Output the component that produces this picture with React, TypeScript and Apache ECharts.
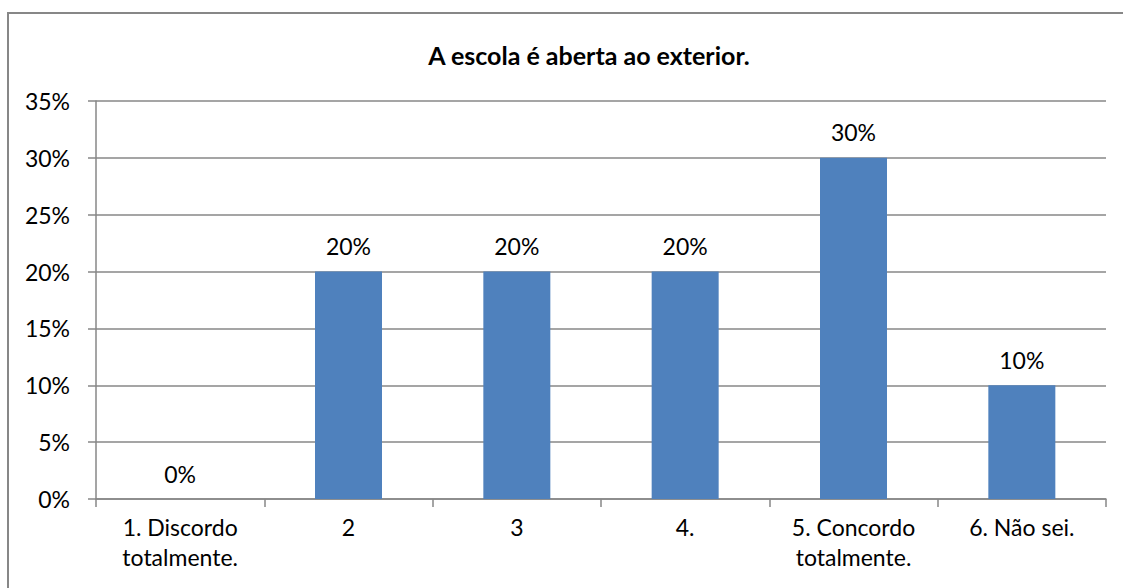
import React, { useEffect, useRef } from "react";
import * as echarts from "echarts";

const titleText = "A escola é aberta ao exterior.";
const categories = [
  "1. Discordo\ntotalmente.",
  "2",
  "3",
  "4.",
  "5. Concordo\ntotalmente.",
  "6. Não sei.",
];
const values = [0, 20, 20, 20, 30, 10];
const yMax = 35;
const yInterval = 5;

const FONT = "Lato, 'Open Sans', sans-serif";
const FS = 23;

export default function App() {
  const ref = useRef<HTMLDivElement>(null);
  useEffect(() => {
    document.body.style.margin = "0";
    const chart = echarts.init(ref.current!, null, { renderer: "svg" });
    chart.setOption({
      animation: false,
      backgroundColor: "#ffffff",
      textStyle: { fontFamily: FONT },
      title: {
        text: titleText,
        left: 584,
        top: 37,
        textAlign: "center",
        textStyle: { fontFamily: FONT, fontSize: 25, fontWeight: "bold", color: "#000" },
      },
      graphic: [
        {
          type: "rect",
          shape: { x: 8, y: 13, width: 1300, height: 800 },
          style: { fill: "none", stroke: "#878787", lineWidth: 2 },
          silent: true,
          z: -1,
        },
      ],
      grid: { left: 96, right: 17, top: 101, bottom: 89, containLabel: false },
      xAxis: {
        type: "category",
        data: categories,
        axisLine: { lineStyle: { color: "#878787", width: 1.5 } },
        axisTick: { show: true, length: 8, lineStyle: { color: "#878787", width: 1.5 } },
        axisLabel: {
          fontFamily: FONT,
          fontSize: FS,
          color: "#000",
          margin: 13,
          lineHeight: 30,
          interval: 0,
        },
      },
      yAxis: {
        type: "value",
        min: 0,
        max: yMax,
        interval: yInterval,
        axisLine: { show: true, lineStyle: { color: "#878787", width: 1.5 } },
        axisTick: { show: true, length: 8, lineStyle: { color: "#878787", width: 1.5 } },
        splitLine: { show: true, lineStyle: { color: "#878787", width: 1.5 } },
        axisLabel: {
          fontFamily: FONT,
          fontSize: FS,
          color: "#000",
          margin: 26,
          formatter: "{value}%",
        },
      },
      series: [
        {
          type: "bar",
          data: values,
          barWidth: 67,
          itemStyle: { color: "#4F81BD" },
          label: {
            show: true,
            position: "top",
            distance: 14,
            formatter: "{c}%",
            fontFamily: FONT,
            fontSize: FS,
            color: "#000",
          },
        },
      ],
    });
    return () => chart.dispose();
  }, []);
  return (
    <div
      ref={ref}
      style={{ position: "absolute", left: 0, top: 0, width: 1123, height: 588 }}
    />
  );
}
